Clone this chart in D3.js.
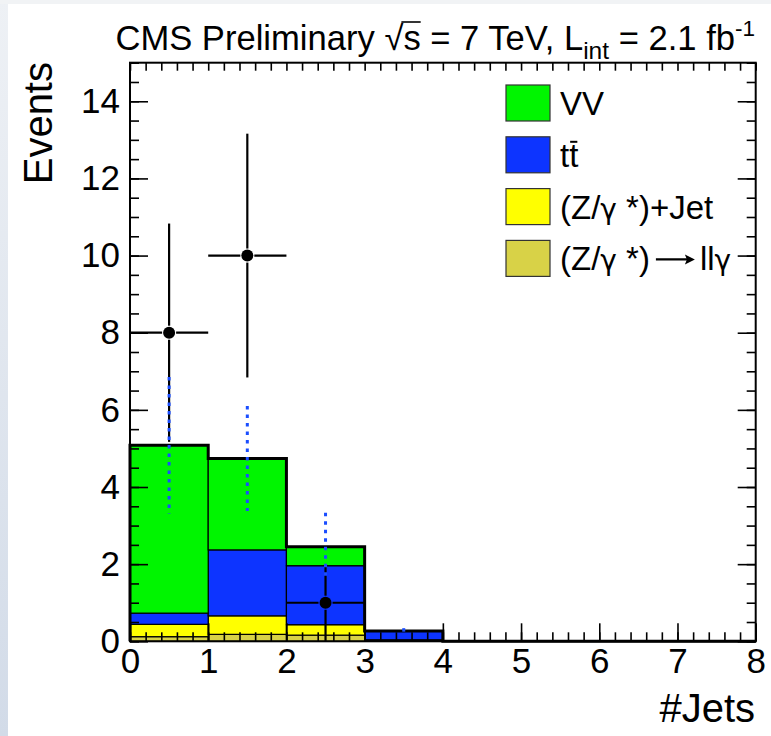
<!DOCTYPE html>
<html><head><meta charset="utf-8">
<script src="https://cdn.jsdelivr.net/npm/d3@7"></script>
<style>
html,body{margin:0;padding:0;background:#fff;}
svg{display:block;}
text{font-family:"Liberation Sans",Arial,Helvetica,sans-serif;fill:#000;}
</style></head>
<body>
<svg id="chart" width="771" height="736"></svg>
<script>
// ---- data ----
const binEdges = [0,1,2,3,4,5,6,7,8];
const zllg  = [0.12,0.18,0.16,0.03,0,0,0,0];   // (Z/γ*) → llγ
const zjet  = [0.32,0.48,0.27,0.01,0,0,0,0];   // (Z/γ*)+Jet
const ttbar = [0.29,1.71,1.53,0.23,0,0,0,0];   // tt̄
const vv    = [4.35,2.37,0.49,0.00,0,0,0,0];   // VV
const dataX   = [0.5,1.5,2.5];
const dataY   = [8,10,1];
const dataErr = [2.83,3.16,1.0];
const mcX   = [0.5,1.5,2.5,3.5];
const mcErr = [1.77,1.36,0.88,0.07];
const xTicks = [0,1,2,3,4,5,6,7,8];
const yTicks = [0,2,4,6,8,10,12,14];
const legendLabels = ["VV","tt","(Z/γ *)+Jet","(Z/γ *) → llγ"];
const colors = {vv:"#00f500", tt:"#0d34ff", zjet:"#ffff00", zllg:"#d8d247"};

const svg = d3.select("#chart");
const W = 771, H = 736;

// background (slide-like)
const defs = svg.append("defs");
const grad = defs.append("linearGradient").attr("id","lg").attr("x1",0).attr("y1",0).attr("x2",0).attr("y2",1);
grad.append("stop").attr("offset","0").attr("stop-color","#eef1f5");
grad.append("stop").attr("offset","1").attr("stop-color","#d2dbe8");
svg.append("rect").attr("width",W).attr("height",H).attr("fill","#fff");
svg.append("rect").attr("x",0).attr("y",0).attr("width",8).attr("height",H).attr("fill","url(#lg)");
svg.append("rect").attr("x",0).attr("y",0).attr("width",W).attr("height",4).attr("fill","#f1f3f5");

const x = d3.scaleLinear().domain([0,8]).range([130,755.7]);
const y = d3.scaleLinear().domain([0,15]).range([641.3,62.7]);

// ---- stacked histogram ----
const layers = [
  {key:"zllg", vals:zllg, color:colors.zllg},
  {key:"zjet", vals:zjet, color:colors.zjet},
  {key:"tt",   vals:ttbar, color:colors.tt},
  {key:"vv",   vals:vv,   color:colors.vv}
];
const cum = binEdges.slice(0,-1).map(()=>0);
const rects = [];
layers.forEach(L=>{
  L.vals.forEach((v,i)=>{
    if(v>0){ rects.push({i, y0:cum[i], y1:cum[i]+v, color:L.color}); }
    cum[i]+=v;
  });
});
svg.append("g").selectAll("rect").data(rects).join("rect")
  .attr("x",d=>x(binEdges[d.i]))
  .attr("width",d=>x(binEdges[d.i+1])-x(binEdges[d.i]))
  .attr("y",d=>y(d.y1))
  .attr("height",d=>y(d.y0)-y(d.y1))
  .attr("fill",d=>d.color)
  .attr("stroke","#000").attr("stroke-width",1.2);

// total outline
const totPts = [];
cum.forEach((t,i)=>{ totPts.push([binEdges[i],t]); totPts.push([binEdges[i+1],t]); });
const outline = [[0,0]].concat(totPts).concat([[8,0]]);
svg.append("path")
  .attr("d", d3.line().x(d=>x(d[0])).y(d=>y(d[1]))(outline))
  .attr("fill","none").attr("stroke","#000").attr("stroke-width",3);

// ---- axes (ticks inside, drawn over fills) ----
const xMinor = d3.range(0,41).map(k=>k*0.2);
const yMinor = d3.range(0,31).map(k=>k*0.5);
function clean(g){ g.select(".domain").remove(); g.selectAll("line").attr("stroke","#000").attr("stroke-width",1.6); }
svg.append("g").attr("transform",`translate(0,${y(0)})`)
  .call(d3.axisBottom(x).tickValues(xMinor).tickSize(-9).tickFormat("")).call(clean);
const xAx = svg.append("g").attr("transform",`translate(0,${y(0)})`)
  .call(d3.axisBottom(x).tickValues(xTicks).tickSize(-18).tickPadding(7).tickFormat(d3.format("d"))).call(clean);
xAx.selectAll("text").attr("font-size",35).attr("fill","#000");
svg.append("g").attr("transform",`translate(0,${y(15)})`)
  .call(d3.axisTop(x).tickValues(xMinor).tickSize(-8).tickFormat("")).call(clean);
svg.append("g").attr("transform",`translate(${x(0)},0)`)
  .call(d3.axisLeft(y).tickValues(yMinor).tickSize(-9).tickFormat("")).call(clean);
const yAx = svg.append("g").attr("transform",`translate(${x(0)},0)`)
  .call(d3.axisLeft(y).tickValues(yTicks).tickSize(-18).tickPadding(10).tickFormat(d3.format("d"))).call(clean);
yAx.selectAll("text").attr("font-size",35).attr("fill","#000");
svg.append("g").attr("transform",`translate(${x(8)},0)`)
  .call(d3.axisRight(y).tickValues(yMinor).tickSize(-9).tickFormat("")).call(clean);
svg.append("g").attr("transform",`translate(${x(8)},0)`)
  .call(d3.axisRight(y).tickValues(yTicks).tickSize(-18).tickFormat("")).call(clean);

// ---- data points with error bars ----
const gap = 7;
const dg = svg.append("g").attr("stroke","#000").attr("stroke-width",2.2);
dataX.forEach((cx,k)=>{
  const px = x(cx), py = y(dataY[k]);
  const xl = x(cx-0.5), xr = x(cx+0.5);
  const yt = y(dataY[k]+dataErr[k]), yb = y(Math.max(0,dataY[k]-dataErr[k]));
  dg.append("line").attr("x1",xl).attr("x2",px-gap).attr("y1",py).attr("y2",py);
  dg.append("line").attr("x1",px+gap).attr("x2",xr).attr("y1",py).attr("y2",py);
  dg.append("line").attr("x1",px).attr("x2",px).attr("y1",yt).attr("y2",py-gap);
  dg.append("line").attr("x1",px).attr("x2",px).attr("y1",py+gap).attr("y2",yb);
});
svg.append("g").selectAll("circle").data(dataX).join("circle")
  .attr("cx",d=>x(d)).attr("cy",(d,k)=>y(dataY[k])).attr("r",6).attr("fill","#000");

// MC uncertainty (dotted)
svg.append("g").selectAll("line").data(mcX).join("line")
  .attr("x1",d=>x(d)).attr("x2",d=>x(d))
  .attr("y1",(d,k)=>y(cum[k]+mcErr[k]))
  .attr("y2",(d,k)=>y(cum[k]-mcErr[k]))
  .attr("stroke","#1a4dff").attr("stroke-width",3).attr("stroke-dasharray","3.5 5");

// frame
svg.append("rect").attr("x",x(0)).attr("y",y(15)).attr("width",x(8)-x(0)).attr("height",y(0)-y(15))
  .attr("fill","none").attr("stroke","#000").attr("stroke-width",2);

// ---- legend ----
const legColors = [colors.vv, colors.tt, colors.zjet, colors.zllg];
const lg = svg.append("g");
legendLabels.forEach((lab,k)=>{
  const top = 85 + k*51.8;
  const base = top+30;
  lg.append("rect").attr("x",506).attr("y",top).attr("width",44).attr("height",36)
    .attr("fill",legColors[k]).attr("stroke","#333").attr("stroke-width",1.2);
  const t = lg.append("text").attr("x",560).attr("y",base).attr("font-size",33);
  if(k<2){
    t.text(lab);
  } else {
    const parts = lab.split("γ");
    const arrowIdx = parts[1].indexOf("→");
    t.append("tspan").text(parts[0]);
    t.append("tspan").attr("font-family","DejaVu Sans").attr("font-size",28).text("γ");
    if(arrowIdx<0){
      t.append("tspan").text(parts[1]);
    } else {
      const pre = parts[1].slice(0,arrowIdx).trimEnd();
      const post = parts[1].slice(arrowIdx+1).trim();
      t.append("tspan").text(pre);
      const startX = t.node().getComputedTextLength() + 560;
      t.append("tspan").attr("dx",50).text(post);
      t.append("tspan").attr("font-family","DejaVu Sans").attr("font-size",28).text("γ");
      // long arrow "→" drawn as a line with a head
      const ay = base - 11;
      const ax1 = startX + 6, ax2 = startX + 45;
      lg.append("line").attr("x1",ax1).attr("x2",ax2-6).attr("y1",ay).attr("y2",ay)
        .attr("stroke","#000").attr("stroke-width",2.2);
      lg.append("path").attr("d",`M${ax2},${ay} L${ax2-10},${ay-5} L${ax2-8},${ay} L${ax2-10},${ay+5} Z`)
        .attr("fill","#000");
    }
  }
  if(k===1){
    const ext = t.node().getExtentOfChar(1);
    lg.append("line").attr("x1",ext.x+1).attr("x2",ext.x+ext.width-1)
      .attr("y1",ext.y+5).attr("y2",ext.y+5).attr("stroke","#000").attr("stroke-width",2);
  }
});

// ---- axis titles ----
svg.append("text").attr("x",755).attr("y",722).attr("text-anchor","end").attr("font-size",40).text("#Jets");
svg.append("text").attr("transform","translate(52,62) rotate(-90)").attr("text-anchor","end").attr("font-size",40).text("Events");

// ---- title ----
const title = svg.append("text").attr("x",755).attr("y",50).attr("text-anchor","end").attr("font-size",34.6);
title.append("tspan").text("CMS Preliminary √");
title.append("tspan").text("s");
title.append("tspan").text(" = 7 TeV, L");
title.append("tspan").attr("font-size",24.5).attr("dy",9).text("int");
title.append("tspan").attr("dy",-9).text(" = 2.1 fb");
title.append("tspan").attr("font-size",22.5).attr("dy",-14).text("-1");
// overline of the square root
const sIdx = "CMS Preliminary √".length;
const rootExt = title.node().getExtentOfChar(sIdx-1);
const sExt = title.node().getExtentOfChar(sIdx);
svg.append("line").attr("x1",rootExt.x+rootExt.width-2).attr("x2",sExt.x+sExt.width)
  .attr("y1",rootExt.y+3).attr("y2",rootExt.y+3).attr("stroke","#000").attr("stroke-width",1.6);
</script>
</body></html>
